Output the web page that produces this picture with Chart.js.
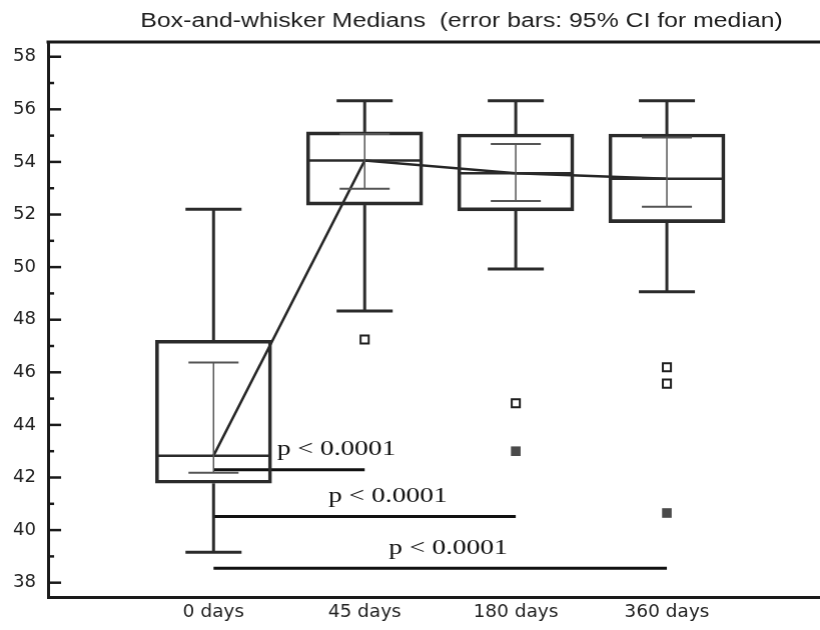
<!DOCTYPE html>
<html lang="en">
<head>
<meta charset="UTF-8">
<title>Box-and-whisker Medians</title>
<script src="https://cdn.jsdelivr.net/npm/chart.js"></script>
<style>
  body { margin: 0; background: #fff; overflow: hidden; }
  #wrap { width: 820px; height: 630px; }
  canvas { display: block; }
</style>
</head>
<body>
<div id="wrap"><canvas id="myChart"></canvas></div>
<script>
// values
const groups = ['0 days', '45 days', '180 days', '360 days'];
const whiskerLow  = [39.16, 48.33, 49.93, 49.06];
const q1          = [41.78, 52.36, 52.14, 51.69];
const medians     = [42.83, 54.05, 53.57, 53.36];
const q3          = [47.22, 55.14, 55.06, 55.06];
const whiskerHigh = [52.20, 56.33, 56.33, 56.33];
const ciLow       = [42.18, 52.98, 52.51, 52.30];
const ciHigh      = [46.37, 55.06, 54.68, 54.93];

const openOutlierGroup   = [2, 3, 4, 4];
const openOutlierValue   = [47.25, 44.82, 46.19, 45.57];
const filledOutlierGroup = [3, 4];
const filledOutlierValue = [43.00, 40.65];

const pLabels = ['p < 0.0001', 'p < 0.0001', 'p < 0.0001'];
const pFrom   = [1, 1, 1];
const pTo     = [2, 3, 4];
const pLevel  = [42.29, 40.52, 38.55];

const title = 'Box-and-whisker Medians  (error bars: 95% CI for median)';

// where the p labels sit (x in group units, left edge of text)
const pLabelX = [1.42, 1.76, 2.16];

const INK = '#2b2b2b';
const PLOT_RIGHT = 820;

function seg(ctx, x1, y1, x2, y2) {
  ctx.beginPath();
  ctx.moveTo(x1, y1);
  ctx.lineTo(x2, y2);
  ctx.stroke();
}

const boxExtras = {
  id: 'boxExtras',
  afterDatasetsDraw(chart) {
    const { ctx, scales: { x, y } } = chart;
    ctx.save();
    ctx.lineCap = 'butt';
    groups.forEach((g, i) => {
      const cx = x.getPixelForValue(i + 1);
      // whiskers
      ctx.strokeStyle = INK;
      ctx.lineWidth = 3;
      const yTop = y.getPixelForValue(q3[i]), yHi = y.getPixelForValue(whiskerHigh[i]);
      const yBot = y.getPixelForValue(q1[i]), yLo = y.getPixelForValue(whiskerLow[i]);
      seg(ctx, cx, yTop, cx, yHi);
      seg(ctx, cx - 28, yHi, cx + 28, yHi);
      seg(ctx, cx, yBot, cx, yLo);
      seg(ctx, cx - 28, yLo, cx + 28, yLo);
      // median
      ctx.lineWidth = 2.5;
      const ym = y.getPixelForValue(medians[i]);
      seg(ctx, cx - 56.5, ym, cx + 56.5, ym);
      // 95% CI for median
      ctx.strokeStyle = '#555';
      ctx.lineWidth = 1.5;
      const c1 = y.getPixelForValue(ciLow[i]), c2 = y.getPixelForValue(ciHigh[i]);
      seg(ctx, cx, c1, cx, c2);
      ctx.lineWidth = 2;
      seg(ctx, cx - 25, c1, cx + 25, c1);
      seg(ctx, cx - 25, c2, cx + 25, c2);
    });

    // p value labels
    ctx.fillStyle = '#111';
    ctx.font = '21.5px "Liberation Serif", "Times New Roman", serif';
    ctx.textAlign = 'left';
    ctx.textBaseline = 'alphabetic';
    pLabels.forEach((t, i) => {
      const px = x.getPixelForValue(pLabelX[i]);
      const py = y.getPixelForValue(pLevel[i]) - 14.5;
      ctx.save();
      ctx.translate(px, py);
      ctx.scale(1.28, 1);
      ctx.fillText(t, 0, 0);
      ctx.restore();
    });

    // inside tick marks on the value axis
    ctx.strokeStyle = '#1a1a1a';
    ctx.lineWidth = 2.5;
    y.ticks.forEach(t => {
      const py = y.getPixelForValue(t.value);
      const len = t.value % 2 === 0 ? 13 : 6;
      seg(ctx, chart.chartArea.left, py, chart.chartArea.left + len, py);
    });

    // top frame line
    ctx.lineWidth = 3;
    seg(ctx, chart.chartArea.left - 1.5, chart.chartArea.top, chart.chartArea.right, chart.chartArea.top);
    ctx.restore();
  },
  afterDraw(chart) {
    const ctx = chart.ctx;
    ctx.save();
    ctx.fillStyle = '#1e1e1e';
    ctx.font = '19.5px "Liberation Sans", Arial, sans-serif';
    ctx.textAlign = 'center';
    ctx.textBaseline = 'alphabetic';
    ctx.translate(461, 27);
    ctx.scale(1.27, 1);
    ctx.fillText(title, 0, 0);
    ctx.restore();
  }
};

const datasets = [
  {
    type: 'bar',
    data: groups.map((g, i) => ({ x: i + 1, y: [q1[i], q3[i]] })),
    backgroundColor: 'rgba(0,0,0,0)',
    borderColor: INK,
    borderWidth: 3,
    borderSkipped: false,
    barThickness: 116
  },
  {
    type: 'line',
    data: groups.map((g, i) => ({ x: i + 1, y: medians[i] })),
    borderColor: '#262626',
    borderWidth: 2.5,
    pointRadius: 0,
    tension: 0
  },
  {
    type: 'scatter',
    data: openOutlierGroup.map((g, i) => ({ x: g, y: openOutlierValue[i] })),
    pointStyle: 'rect',
    pointRadius: 5.7,
    backgroundColor: '#fff',
    borderColor: '#1e1e1e',
    borderWidth: 2
  },
  {
    type: 'scatter',
    data: filledOutlierGroup.map((g, i) => ({ x: g, y: filledOutlierValue[i] })),
    pointStyle: 'rect',
    pointRadius: 6.8,
    backgroundColor: '#4a4a4a',
    borderWidth: 0
  }
];

pLevel.forEach((lv, i) => {
  datasets.push({
    type: 'line',
    data: [{ x: pFrom[i], y: lv }, { x: pTo[i], y: lv }],
    borderColor: '#111',
    borderWidth: 3,
    pointRadius: 0
  });
});

const tickFont = { family: '"DejaVu Sans", sans-serif', size: 18 };

const chart = new Chart(document.getElementById('myChart'), {
  type: 'bar',
  data: { datasets },
  options: {
    responsive: true,
    maintainAspectRatio: false,
    animation: false,
    events: [],
    layout: { padding: { top: 42, left: 0, right: 0, bottom: 0 } },
    plugins: { legend: { display: false }, tooltip: { enabled: false }, title: { display: false } },
    scales: {
      x: {
        type: 'linear',
        offset: false,
        min: -0.095,
        max: 5.02,
        afterFit: s => { s.height = 33; s.paddingLeft = 0; s.paddingRight = 0; },
        afterBuildTicks: s => { s.ticks = groups.map((g, i) => ({ value: i + 1 })); },
        grid: { display: false, drawTicks: false, offset: false },
        border: { display: true, width: 3, color: '#1a1a1a' },
        ticks: {
          autoSkip: false,
          maxRotation: 0,
          padding: 4,
          color: '#222',
          font: { family: '"DejaVu Sans", sans-serif', size: 18.5 },
          callback: v => groups[v - 1]
        }
      },
      y: {
        min: 37.456,
        max: 58.56,
        afterFit: s => { s.width = 48; },
        grid: { display: false, drawTicks: false },
        border: { display: true, width: 3, color: '#1a1a1a' },
        ticks: {
          stepSize: 1,
          includeBounds: false,
          autoSkip: false,
          padding: 12,
          color: '#222',
          font: tickFont,
          callback: v => (v % 2 === 0 ? v : '')
        }
      }
    }
  },
  plugins: [boxExtras]
});

// Chart.js keeps a few px on the right for the last x label; widen the
// canvas (page clips it) so the plot itself ends at the window edge
const wrap = document.getElementById('wrap');
let wrapWidth = 820;
for (let k = 0; k < 4; k++) {
  if (!chart.chartArea) break;
  const diff = PLOT_RIGHT - chart.chartArea.right;
  if (Math.abs(diff) < 0.5) break;
  wrapWidth += diff;
  wrap.style.width = wrapWidth + 'px';
  chart.resize();
}
</script>
</body>
</html>
